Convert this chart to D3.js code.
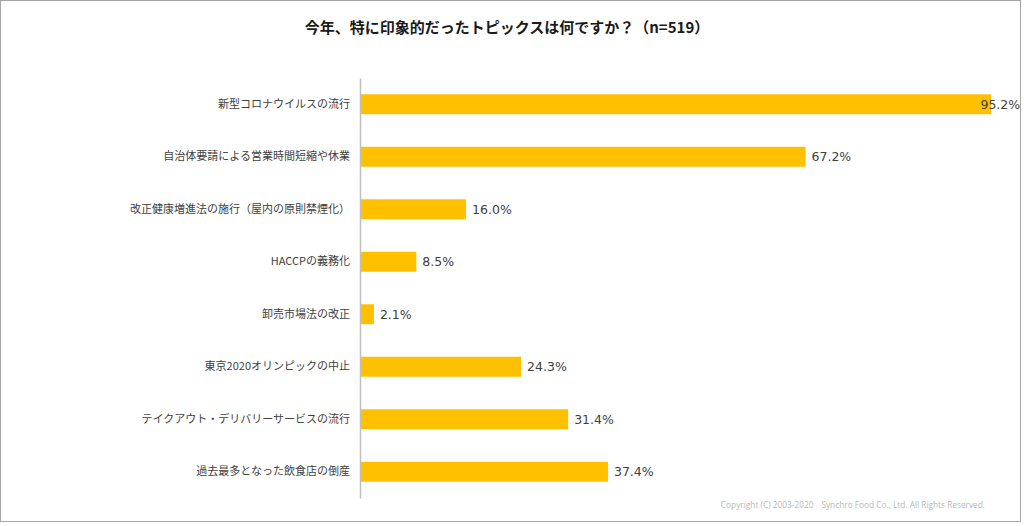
<!DOCTYPE html>
<html><head><meta charset="utf-8">
<script src="https://cdn.jsdelivr.net/npm/d3@7"></script>
<style>body{margin:0;background:#fff}svg{display:block}</style>
</head><body>
<script>
const categories = ["新型コロナウイルスの流行","自治体要請による営業時間短縮や休業","改正健康増進法の施行（屋内の原則禁煙化）","HACCPの義務化","卸売市場法の改正","東京2020オリンピックの中止","テイクアウト・デリバリーサービスの流行","過去最多となった飲食店の倒産"];
const values = [95.2,67.2,16.0,8.5,2.1,24.3,31.4,37.4];
const title = "今年、特に印象的だったトピックスは何ですか？（n=519）";
const copyright = "Copyright (C) 2003-2020　Synchro Food Co., Ltd. All Rights Reserved.";

const W=1024,H=526;
const svg=d3.select("body").append("svg").attr("width",W).attr("height",H);
svg.append("rect").attr("x",0.5).attr("y",0.5).attr("width",1020).attr("height",521).attr("fill","#fff").attr("stroke","#a6a6a6");
const font="'Noto Sans CJK JP','Noto Sans',sans-serif";
const x=d3.scaleLinear().domain([0,100]).range([360,1023]);
const y=d3.scaleBand().domain(categories).range([78,498]).paddingInner(0.62).paddingOuter(0.31);

svg.append("text").attr("x",507).attr("y",33).attr("text-anchor","middle").attr("font-family",font).attr("font-weight","bold").attr("font-size",15).attr("fill","#1a1a1a").text(title);

svg.selectAll("rect.bar").data(values).join("rect").attr("class","bar")
 .attr("x",x(0)).attr("y",(d,i)=>y(categories[i])).attr("width",d=>x(d)-x(0)).attr("height",y.bandwidth()).attr("fill","#ffc000");

const axis=d3.axisLeft(y).tickSize(0).tickPadding(10);
const g=svg.append("g").attr("transform",`translate(${x(0)},0)`).call(axis);
g.select(".domain").attr("stroke","#bfbfbf").attr("stroke-width",1.5);
g.selectAll("text").attr("font-family",font).attr("font-size",11).attr("fill","#404040");

svg.selectAll("text.val").data(values).join("text").attr("class","val")
 .attr("x",d=>d>90?x(d)+29:x(d)+6).attr("text-anchor",d=>d>90?"end":"start")
 .attr("y",(d,i)=>y(categories[i])+y.bandwidth()/2).attr("dy","0.36em")
 .attr("font-family","'DejaVu Sans',sans-serif").attr("font-size",12.5).attr("fill","#404040")
 .text(d=>d.toFixed(1)+"%");

svg.append("text").attr("x",985).attr("y",508).attr("text-anchor","end").attr("font-family","'Open Sans',sans-serif").attr("font-size",8.3).attr("fill","#b8b8b8").text(copyright);
</script>
</body></html>
